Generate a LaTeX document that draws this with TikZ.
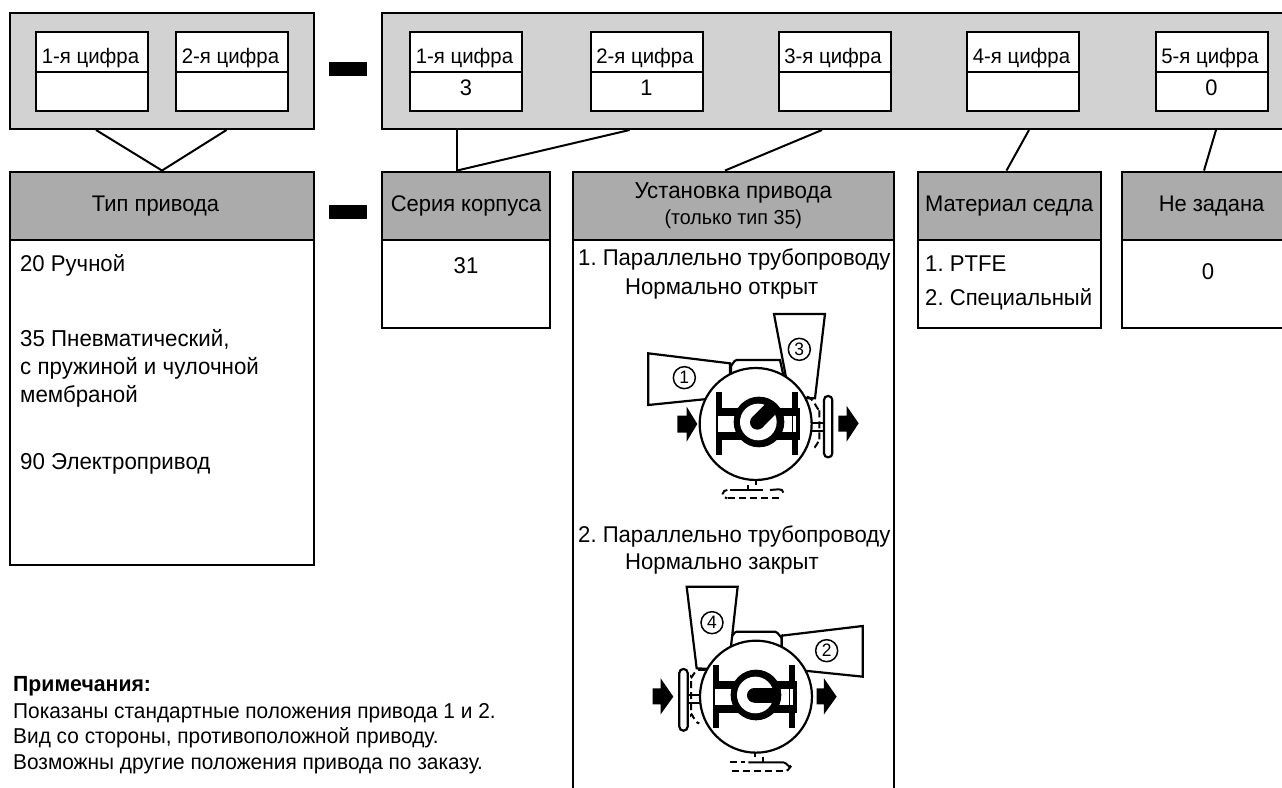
\documentclass[tikz,border=0pt]{standalone}
\usepackage{fontspec}
\setmainfont[FakeStretch=0.97]{Liberation Sans}
\usetikzlibrary{calc}

\tikzset{
  panel/.style={draw,line width=2pt,fill=gray!35!white,inner sep=0pt},
  digit/.style={draw,line width=2pt,fill=white,inner sep=0pt,minimum width=112pt,minimum height=39.5pt,text height=23pt,text depth=0pt,font=\fontsize{21}{24}\selectfont},
  digitval/.style={draw,line width=2pt,fill=white,inner sep=0pt,minimum width=112pt,minimum height=39.5pt,text height=7.4pt,text depth=0pt,font=\fontsize{22.5}{24}\selectfont},
  head/.style={draw,line width=2pt,fill=black!33,inner sep=0pt,minimum height=68.5pt,font=\fontsize{22.6}{26}\selectfont,align=center},
  body/.style={draw,line width=2pt,fill=white,inner sep=0pt},
  txt/.style={inner sep=0pt,font=\fontsize{22.8}{26}\selectfont},
  minusbar/.style={fill=black,inner sep=0pt,minimum width=37.5pt,minimum height=14pt},
  link/.style={line width=2pt},
  part/.style={line width=2.2pt,fill=white,line join=miter},
  num/.style={draw,circle,line width=1.5pt,fill=white,minimum size=22pt,inner sep=0pt,font=\fontsize{18}{20}\selectfont},
  flow/.style={fill=black},
  ghost/.style={line width=2pt,dash pattern=on 7pt off 4pt}
}

% inside of the valve, origin between the flanges
\newcommand{\valvecore}[1]{
  \fill[black] (-124,-95) rectangle (-104,95);
  \fill[black] (104,-95) rectangle (124,95);
  \fill[black] (-124,-47) rectangle (128,50);
  \fill[white] (-118,-22) rectangle (118,25);
  \draw[line width=1.2pt] (107,-22) -- (107,25);
  \fill[black] (6,-5) circle (76);
  \fill[white] (4,-5) circle (55);
  \fill[black] (1,-4) circle (22);
  \draw[line width=14.6pt] (1,-4) -- ++(#1:62);
}

\begin{document}
\frenchspacing
\begin{tikzpicture}[x=1pt,y=-1pt]
  \path[use as bounding box,clip] (0,0) rectangle (1282,787);

  % upper row
  \node[panel,minimum width=304pt,minimum height=116pt] (panelA) at (162,71) {};
  \node[panel,minimum width=918pt,minimum height=116pt] (panelB) at (840.6,71) {};

  \node[digit] (a1) at (92,52) {1-я цифра\hspace*{3pt}};
  \node[digitval] (a1v) at (92,91.3) {};
  \node[digit] (a2) at (232,52) {2-я цифра\hspace*{3pt}};
  \node[digitval] (a2v) at (232,91.3) {};

  \node[digit] (b1) at (466,52) {1-я цифра\hspace*{3pt}};
  \node[digitval] (b1v) at (466,91.3) {3};
  \node[digit] (b2) at (646.5,52) {2-я цифра\hspace*{3pt}};
  \node[digitval] (b2v) at (646.5,91.3) {1};
  \node[digit] (b3) at (834.5,52) {3-я цифра\hspace*{3pt}};
  \node[digitval] (b3v) at (834.5,91.3) {};
  \node[digit] (b4) at (1023,52) {4-я цифра\hspace*{3pt}};
  \node[digitval] (b4v) at (1023,91.3) {};
  \node[digit] (b5) at (1211.5,52) {5-я цифра\hspace*{3pt}};
  \node[digitval] (b5v) at (1211.5,91.3) {0};

  \node[minusbar] (minus1) at (348,69) {};
  \node[minusbar] (minus2) at (348,212) {};

  % lower row
  \node[body,minimum width=304pt,minimum height=325pt] (typebody) at (162,402.5) {};
  \node[body,minimum width=168.5pt,minimum height=88pt] (seriesbody) at (466,284) {};
  \node[body,minimum width=321.5pt,minimum height=570pt] (mountbody) at (733.3,525) {};
  \node[body,minimum width=182.5pt,minimum height=88pt] (seatbody) at (1009.3,284) {};
  \node[body,minimum width=180pt,minimum height=88pt] (nonebody) at (1211.6,284) {};

  \node[head,minimum width=304pt] (typehead) at (162,205.8) {Тип привода\hspace*{13pt}};
  \node[head,minimum width=168.5pt] (serieshead) at (466,205.8) {Серия корпуса};
  \node[head,minimum width=321.5pt] (mounthead) at (733.3,205.8) {\fontsize{23}{26}\selectfont Установка привода\\[0pt]{\fontsize{20.3}{22}\selectfont (только тип 35)}};
  \node[head,minimum width=182.5pt] (seathead) at (1009.3,205.8) {Материал седла};
  \node[head,minimum width=180pt] (nonehead) at (1211.6,205.8) {Не задана};

  % connectors
  \draw[link] ([xshift=-66pt]panelA.south) -- (typehead.north);
  \draw[link] ([xshift=64.5pt]panelA.south) -- (typehead.north);
  \draw[link] ([xshift=-383.6pt]panelB.south) -- ([xshift=-9pt]serieshead.north);
  \draw[link] ([xshift=-211pt]panelB.south) -- ([xshift=-9pt]serieshead.north);
  \draw[link] ([xshift=-18.6pt]panelB.south) -- ([xshift=-8.3pt]mounthead.north);
  \draw[link] ([xshift=188.4pt]panelB.south) -- ([xshift=-2.8pt]seathead.north);
  \draw[link] ([xshift=375.4pt]panelB.south) -- ([xshift=-7.6pt]nonehead.north);

  % body texts
  \node[txt,anchor=west] (t20) at (20,265) {20 Ручной};
  \node[txt,anchor=north west,align=left,font=\fontsize{23}{28}\selectfont] (t35) at (20,329) {35 Пневматический,\\с пружиной и чулочной\\мембраной};
  \node[txt,anchor=west,font=\fontsize{23}{26}\selectfont] (t90) at (20,464) {90 Электропривод};
  \node[txt] (t31) at (466,266) {31};
  \node[txt,anchor=west] (m1) at (578,260) {1. Параллельно трубопроводу};
  \node[txt,anchor=west] (m1b) at (625,289) {Нормально открыт};
  \node[txt,anchor=west] (m2) at (578,536) {2. Параллельно трубопроводу};
  \node[txt,anchor=west] (m2b) at (625,564) {Нормально закрыт};
  \node[txt,anchor=west] (s1) at (925,264) {1. PTFE};
  \node[txt,anchor=west] (s2) at (925,299) {2. Специальный};
  \node[txt] (n0) at (1208,272) {0};

  % notes
  \node[txt,anchor=west,font=\fontsize{21.9}{24}\selectfont\bfseries] (notehead) at (13,686) {Примечания:};
  \node[txt,anchor=north west,align=left,font=\fontsize{21.5}{25.7}\selectfont] (notes) at (13,703) {Показаны стандартные положения привода 1 и 2.\\Вид со стороны, противоположной приводу.\\Возможны другие положения привода по заказу.};

  % valve 1
  \begin{scope}[shift={(620,300)},x=0.3333pt,y=-0.3333pt]
    \draw[part] (333,225) -- (333,195) to[out=-90,in=180] (350,180) -- (480,180) -- (490,225) -- cycle;
    \draw[part] (85,160) -- (330,190) -- (330,290) -- (85,315) -- cycle;
    \draw[part] (462,42) -- (615,42) -- (585,295) -- (510,295) -- cycle;
    \draw[ghost] (560,290) to[out=0,in=-90] (598,325) -- (598,425) to[out=90,in=0] (575,448);
    \draw[line width=2pt] (575,370) -- (612,370);
    \draw[line width=2pt] (575,392) -- (612,392);
    \draw[line width=2.2pt,fill=white,rounded corners=4pt] (612,288) rectangle (637,472);
    \draw[part] (407,372) circle (168);
    \begin{scope}[shift={(411,371)}]
      \valvecore{-45}
    \end{scope}
    \node[num] (num1) at (193,233) {1};
    \node[num] (num3) at (538,148) {3};
    \fill[flow] (172,347) -- (200,347) -- (200,320) -- (232,372) -- (200,425) -- (200,398) -- (172,398) -- cycle;
    \fill[flow] (655,347) -- (680,347) -- (680,318) -- (716,370) -- (680,425) -- (680,395) -- (655,395) -- cycle;
    \draw[line width=2pt] (407,540) -- (407,555);
    \draw[line width=2pt] (385,570) -- (385,555);
    \draw[ghost] (322,570) to[out=180,in=90] (308,582) to[out=-90,in=180] (322,595);
    \draw[line width=2pt] (330,570) -- (430,570);
    \draw[line width=2pt] (450,570) to[out=0,in=90] (490,578);
    \draw[ghost] (325,595) -- (478,595);
  \end{scope}

  % valve 2
  \begin{scope}[shift={(620,575)},x=0.3333pt,y=-0.3333pt]
    \draw[part] (333,215) -- (333,185) to[out=-90,in=180] (350,170) -- (465,170) to[out=0,in=-90] (485,185) -- (485,215) -- cycle;
    \draw[part] (485,182) -- (728,153) -- (728,305) -- (485,280) -- cycle;
    \draw[part] (200,35) -- (353,35) -- (325,285) -- (230,280) -- cycle;
    \draw[ghost] (255,285) -- (235,285) to[out=180,in=-90] (213,305) -- (213,420) to[out=90,in=180] (238,445);
    \draw[line width=2pt] (203,360) -- (240,360);
    \draw[line width=2pt] (203,385) -- (240,385);
    \draw[line width=2.2pt,fill=white,rounded corners=4pt] (178,282) rectangle (203,467);
    \draw[part] (408,365) circle (168);
    \begin{scope}[shift={(402,365)}]
      \valvecore{0}
    \end{scope}
    \node[num] (num4) at (276,143) {4};
    \node[num] (num2) at (620,227) {2};
    \fill[flow] (98,340) -- (122,340) -- (122,310) -- (160,365) -- (122,418) -- (122,388) -- (98,388) -- cycle;
    \fill[flow] (590,340) -- (612,340) -- (612,310) -- (650,365) -- (612,418) -- (612,388) -- (590,388) -- cycle;
    \draw[line width=2pt] (405,530) -- (405,545);
    \draw[line width=2pt] (430,545) -- (430,562);
    \draw[line width=2pt] (385,562) -- (490,562) to[out=0,in=-90] (512,575) to[out=90,in=0] (500,587);
    \draw[ghost] (330,562) -- (375,562);
    \draw[ghost] (335,587) -- (490,587);
  \end{scope}
\end{tikzpicture}
\end{document}
